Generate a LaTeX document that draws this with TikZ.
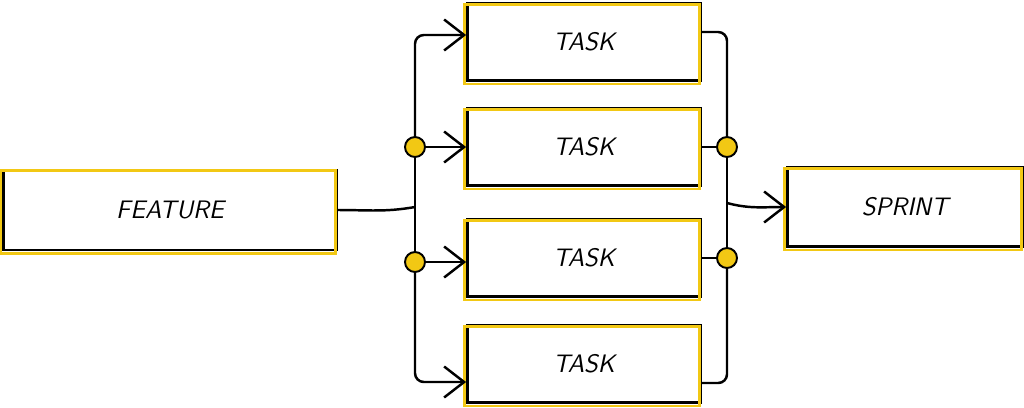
\documentclass[tikz,border=0pt]{standalone}
\usepackage[dvipsnames]{xcolor}
\usepackage{tikz}
\usetikzlibrary{arrows.meta, positioning, calc}
\definecolor{sketchyellow}{RGB}{242,200,20}

\begin{document}
\begin{tikzpicture}[x=0.02cm, y=-0.02cm,
    >={Straight Barb[length=0.4cm, width=0.62cm, line width=1.4pt]},
    box/.style={draw=black, line width=1.6pt, fill=white,
                font=\sffamily\itshape\Large},
    taskbox/.style={minimum width=4.66cm, minimum height=1.54cm},
    flow/.style={line width=1.4pt, rounded corners=5pt},
    dot/.style={circle, draw=black, fill=sketchyellow, line width=1.1pt,
                minimum size=0.4cm, inner sep=0pt}]
  \useasboundingbox (0,0) rectangle (1024,407);
  % boxes
  \node[box, minimum width=6.66cm, minimum height=1.6cm] (feature) at (170,210) {FEATURE};
  \foreach \n/\y in {1/42,2/147,3/258,4/364}{
    \node[box, taskbox] (task\n) at (584,\y) {TASK};
  }
  \node[box, minimum width=4.7cm, minimum height=1.58cm] (sprint) at (905,207) {SPRINT};
  % yellow offset outline
  \foreach \b in {feature,task1,task2,task3,task4,sprint}{
    \draw[sketchyellow, line width=1.6pt]
      ($(\b.south west)+(-2,2)$) rectangle ($(\b.north east)+(-2,2)$);
  }
  % split point on the left
  \coordinate (lj) at (415,207);
  \coordinate (ld2) at (415,147);
  \coordinate (ld3) at (415,262);
  \draw[flow] (feature.east) to[out=0, in=190] (lj);
  \draw[flow] (ld2) -- (ld3);
  \draw[flow, ->] (ld2) |- ([yshift=0.14cm]task1.west);
  \draw[flow, ->] (ld2) -- (task2.west);
  \draw[flow, ->] (ld3) -- (ld3 -| task3.west);
  \draw[flow, ->] (ld3) |- ([yshift=-0.36cm]task4.west);
  % join point on the right
  \coordinate (rd2) at (727,147);
  \coordinate (rd3) at (727,258);
  \coordinate (rj) at (727,203);
  \draw[flow] ([yshift=0.2cm]task1.east) -| (rd2);
  \draw[flow] (task2.east) -- (rd2);
  \draw[flow] (task3.east) -- (rd3);
  \draw[flow] ([yshift=-0.38cm]task4.east) -| (rd3);
  \draw[flow] (rd2) -- (rd3);
  \draw[flow, ->] (rj) to[out=-15, in=180] (sprint.west);
  % dots
  \foreach \d in {ld2,ld3,rd2,rd3}{
    \node[dot] (\d dot) at (\d) {};
  }
\end{tikzpicture}
\end{document}
